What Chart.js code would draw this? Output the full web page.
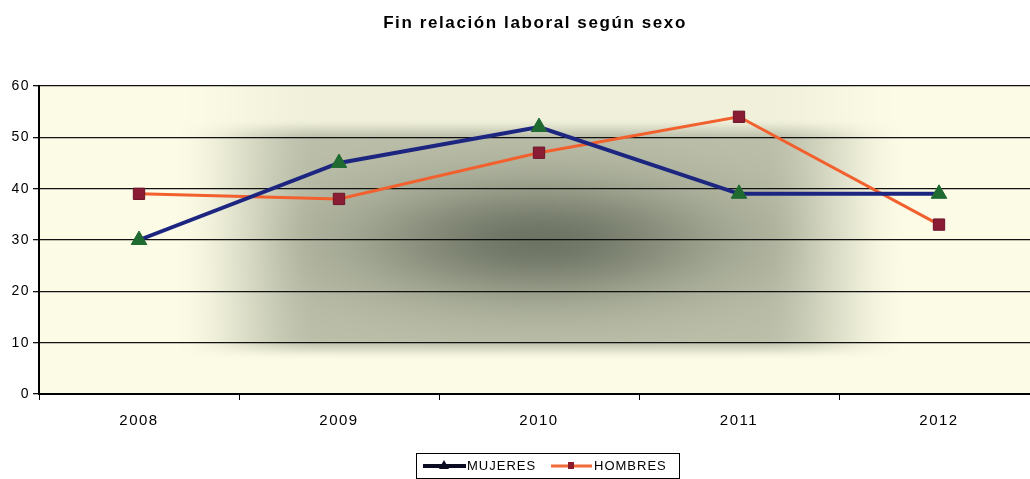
<!DOCTYPE html>
<html><head><meta charset="utf-8">
<script src="https://cdn.jsdelivr.net/npm/chart.js@4/dist/chart.umd.min.js"></script>
<style>html,body{margin:0;padding:0;overflow:hidden;background:#fff}#wrap{width:1045px;height:479px}canvas{display:block}</style>
</head><body>
<div id="wrap"><canvas id="c" width="1045" height="479" style="width:1045px;height:479px"></canvas></div>
<script>
const titleText = 'Fin relación laboral según sexo';
const categories = ['2008', '2009', '2010', '2011', '2012'];
const mujeres = [30, 45, 52, 39, 39];
const hombres = [39, 38, 47, 54, 33];
const yTicks = [0, 10, 20, 30, 40, 50, 60];
const seriesNames = ['MUJERES', 'HOMBRES'];

const FONT = '"Liberation Sans", Arial, sans-serif';

function smooth(e0, e1, v) {
  let t = Math.min(1, Math.max(0, (v - e0) / (e1 - e0)));
  return t * t * (3 - 2 * t);
}

const bgPlugin = {
  id: 'bg',
  beforeDraw(chart) {
    const {ctx, chartArea: a} = chart;
    ctx.letterSpacing = '1.5px';
    const x0 = Math.round(a.left), y0 = Math.round(a.top);
    const w = Math.round(a.right) - x0, h = Math.round(a.bottom) - y0;
    const img = ctx.createImageData(w, h);
    const cream = [252, 251, 230], band = [188, 192, 170], dark = [110, 116, 100];
    for (let j = 0; j < h; j++) {
      const y = y0 + j;
      const fy = (y < 140 ? 0.18 + 0.82 * smooth(118, 140, y) : 1) * (1 - smooth(338, 360, y));
      for (let i = 0; i < w; i++) {
        const x = x0 + i;
        const dx = Math.abs(x - 540);
        const fx = 1 - smooth(220, 370, dx);
        const t = fx * fy;
        const c = Math.exp(-((dx / 180) ** 2 + ((y - 240) / 60) ** 2));
        const k = (j * w + i) * 4;
        for (let ch = 0; ch < 3; ch++) {
          const g = band[ch] + (dark[ch] - band[ch]) * c;
          img.data[k + ch] = cream[ch] + (g - cream[ch]) * t;
        }
        img.data[k + 3] = 255;
      }
    }
    ctx.putImageData(img, x0, y0);
  }
};

const extrasPlugin = {
  id: 'extras',
  afterDraw(chart) {
    const ctx = chart.ctx;
    ctx.save();
    ctx.fillStyle = '#000';
    ctx.letterSpacing = '1.6px';
    ctx.font = 'bold 17px ' + FONT;
    ctx.textAlign = 'center'; ctx.textBaseline = 'middle';
    ctx.fillText(titleText, 535, 23);
    const bx = 416, by = 453, bw = 263, bh = 25;
    ctx.strokeStyle = '#000'; ctx.lineWidth = 1;
    ctx.strokeRect(bx + 0.5, by + 0.5, bw, bh);
    ctx.letterSpacing = '1px';
    ctx.font = '13px ' + FONT; ctx.textAlign = 'left';
    const ly = by + 13;
    ctx.strokeStyle = '#0a0a20'; ctx.lineWidth = 4;
    ctx.beginPath(); ctx.moveTo(423, ly); ctx.lineTo(466, ly); ctx.stroke();
    ctx.fillStyle = '#0a0a20';
    ctx.beginPath(); ctx.moveTo(444, ly - 6); ctx.lineTo(449, ly + 3); ctx.lineTo(439, ly + 3); ctx.closePath(); ctx.fill();
    ctx.fillStyle = '#000';
    ctx.fillText(seriesNames[0], 467, ly);
    ctx.strokeStyle = '#f06a3a'; ctx.lineWidth = 3;
    ctx.beginPath(); ctx.moveTo(551, ly); ctx.lineTo(592, ly); ctx.stroke();
    ctx.fillStyle = '#8b1a2a';
    ctx.fillRect(568, ly - 4, 6, 7);
    ctx.fillStyle = '#000';
    ctx.fillText(seriesNames[1], 594, ly);
    ctx.restore();
  }
};

new Chart(document.getElementById('c'), {
  type: 'line',
  data: {
    labels: categories,
    datasets: [
      {
        label: seriesNames[0], data: mujeres,
        borderColor: '#1c2680', borderWidth: 4,
        pointStyle: 'triangle', pointRadius: 9, pointBorderWidth: 1,
        pointBackgroundColor: '#1f6a30', pointBorderColor: '#1f6a30',
        tension: 0
      },
      {
        label: seriesNames[1], data: hombres,
        borderColor: '#f2602e', borderWidth: 3,
        pointStyle: 'rect', pointRadius: 8, pointBorderWidth: 1,
        pointBackgroundColor: '#8a1c34', pointBorderColor: '#6a1428',
        tension: 0
      }
    ]
  },
  options: {
    responsive: false, animation: false,
    layout: { autoPadding: false, padding: { top: 86, right: 6, bottom: 0, left: 0 } },
    plugins: { legend: { display: false }, title: { display: false }, tooltip: { enabled: false } },
    scales: {
      x: {
        offset: true,
        grid: { offset: true, drawOnChartArea: false, drawTicks: true, tickLength: 6, color: '#000', lineWidth: 1 },
        border: { display: true, color: '#000', width: 2 },
        ticks: { color: '#000', font: { family: FONT, size: 15 }, padding: 12 },
        afterFit(s) { s.height = 85; }
      },
      y: {
        min: 0, max: 60,
        afterBuildTicks(s) { s.ticks = yTicks.map(v => ({ value: v })); },
        grid: { color: '#111', lineWidth: 1.3, drawTicks: true, tickLength: 6 },
        border: { display: true, color: '#000', width: 2 },
        ticks: { color: '#000', font: { family: FONT, size: 14 }, padding: 3 },
        afterFit(s) { s.width = 39; }
      }
    }
  },
  plugins: [bgPlugin, extrasPlugin]
});
</script>
</body></html>
